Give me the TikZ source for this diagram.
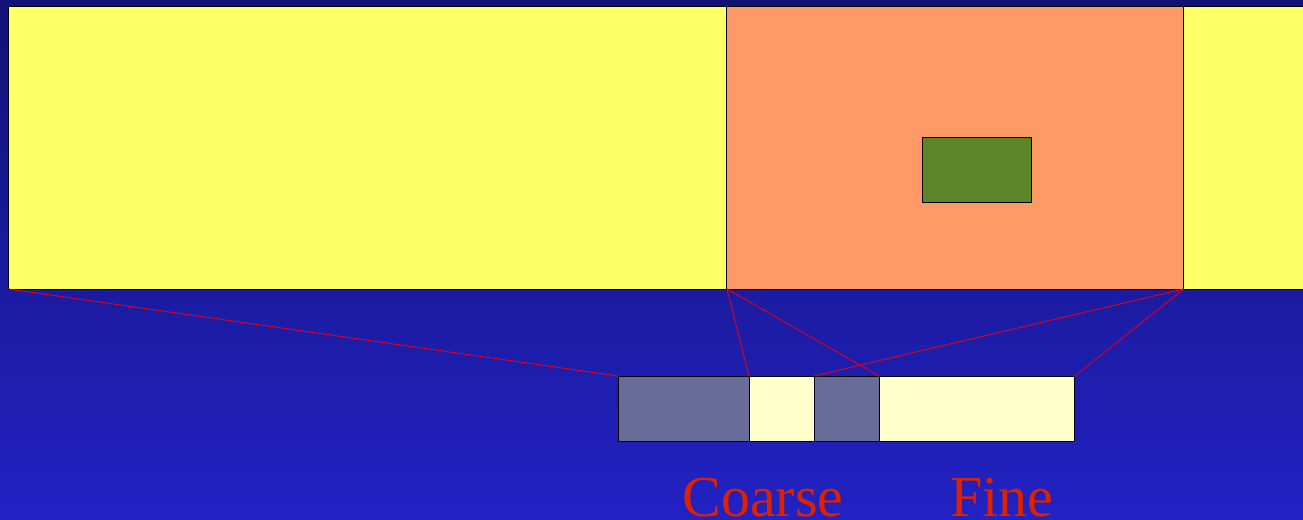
\documentclass[tikz,border=0pt]{standalone}
\usepackage{fontspec}
\setmainfont{Liberation Serif}
\usetikzlibrary{positioning}
\definecolor{bgtop}{RGB}{18,18,118}
\definecolor{bgbot}{RGB}{34,34,196}
\definecolor{barY}{RGB}{255,255,102}
\definecolor{barO}{RGB}{255,153,102}
\definecolor{patch}{RGB}{91,133,39}
\definecolor{slate}{RGB}{104,108,152}
\definecolor{pale}{RGB}{255,255,204}
\definecolor{link}{RGB}{230,0,20}
\definecolor{label}{RGB}{221,34,0}
\begin{document}
\begin{tikzpicture}[x=0.02cm,y=-0.02cm,
	box/.style={draw=black,line width=0.5pt,inner sep=0pt,outer sep=0pt},
	bar/.style={box,minimum height=5.66cm},
	cell/.style={box,minimum height=1.3cm},
	link/.style={draw=link,line width=0.5pt},
	tag/.style={text=label,font=\fontsize{33}{40}\selectfont,anchor=base}]
	\useasboundingbox (0,0) rectangle (1303,520);
	\clip (0,0) rectangle (1303,520);
	\shade[top color=bgtop,bottom color=bgbot] (0,0) rectangle (1303,520);
	% top strip
	\node[bar,fill=barY,minimum width=14.38cm,anchor=north west] (left) at (8,6) {};
	\node[bar,fill=barO,minimum width=9.14cm,right=0pt of left] (zoom) {};
	\node[bar,fill=barY,minimum width=2.6cm,right=0pt of zoom] (right) {};
	\node[box,fill=patch,minimum width=2.18cm,minimum height=1.3cm,anchor=north west] (patch) at (922,137) {};
	% coarse / fine cells
	\node[cell,fill=slate,minimum width=2.62cm,anchor=north west] (c1) at (618,376) {};
	\node[cell,fill=pale,minimum width=1.3cm,right=0pt of c1] (f1) {};
	\node[cell,fill=slate,minimum width=1.3cm,right=0pt of f1] (c2) {};
	\node[cell,fill=pale,minimum width=3.92cm,right=0pt of c2] (f2) {};
	\draw[link] (left.south west) -- (c1.north west);
	\draw[link] (zoom.south west) -- (f1.north west);
	\draw[link] (zoom.south west) -- (f2.north west);
	\draw[link] (zoom.south east) -- (c2.north west);
	\draw[link] (zoom.south east) -- (f2.north east);
	\node[tag] (coarse) at (763,517) {Coarse};
	\node[tag] (fine) at (1002,517) {Fine};
\end{tikzpicture}
\end{document}
